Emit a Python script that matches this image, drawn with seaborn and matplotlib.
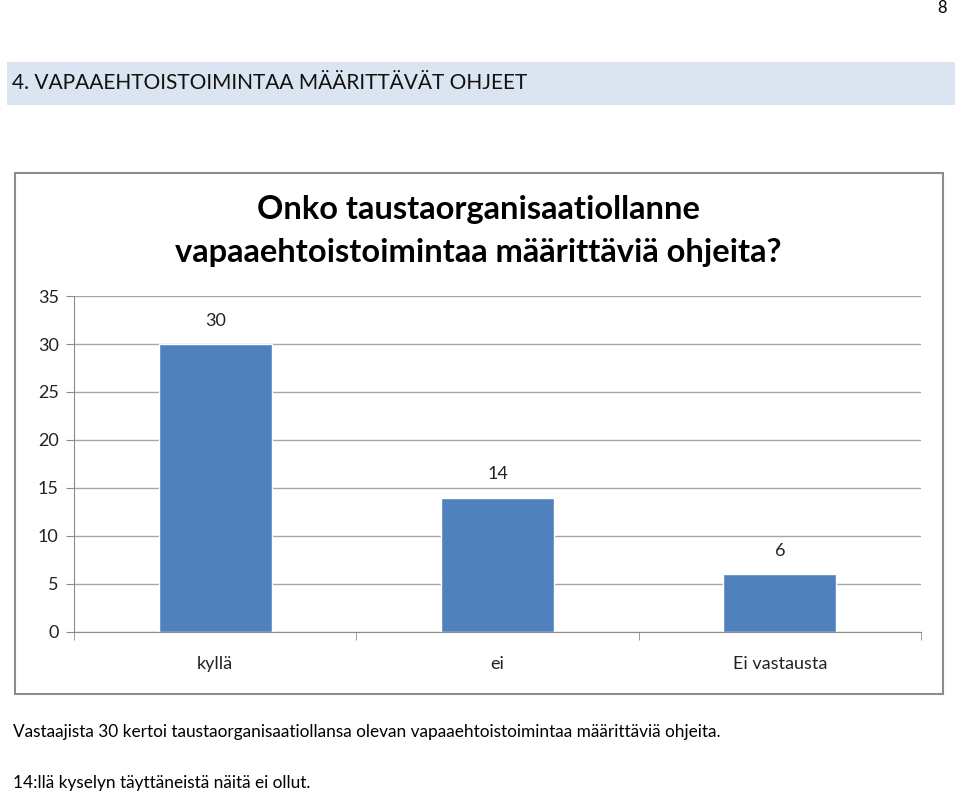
import matplotlib
matplotlib.use("Agg")
import matplotlib.pyplot as plt
import seaborn as sns
import pandas as pd
from matplotlib.patches import Rectangle

categories = ["kyllä", "ei", "Ei vastausta"]
values = [30, 14, 6]
yticks = [0, 5, 10, 15, 20, 25, 30, 35]
title = "Onko taustaorganisaatiollanne\nvapaaehtoistoimintaa määrittäviä ohjeita?"
header = "4. VAPAAEHTOISTOIMINTAA MÄÄRITTÄVÄT OHJEET"
caption1 = "Vastaajista 30 kertoi taustaorganisaatiollansa olevan vapaaehtoistoimintaa määrittäviä ohjeita."
caption2 = "14:llä kyselyn täyttäneistä näitä ei ollut."

sns.set_style("white")
plt.rcParams['font.family'] = ['Lato', 'DejaVu Sans']

W, H = 960, 799
fig = plt.figure(figsize=(W / 100, H / 100), dpi=100)

def fx(px):
    return px / W

def fy(py):
    return 1 - py / H

# page number
fig.text(fx(947), fy(8), "8", ha="right", va="center", fontsize=12, color="black")

# header bar
fig.patches.append(Rectangle((fx(7), fy(105)), fx(955) - fx(7), fy(62) - fy(105),
                             transform=fig.transFigure, facecolor="#DBE5F1", edgecolor="none", zorder=-2))
fig.text(fx(12), fy(83), header, ha="left", va="center", fontsize=15, color="#111111")

# chart box
fig.patches.append(Rectangle((fx(15), fy(694)), fx(943) - fx(15), fy(173) - fy(694),
                             transform=fig.transFigure, facecolor="none", edgecolor="#8C8C8C",
                             linewidth=1.5, zorder=-1))

# chart title
fig.text(fx(478), fy(231), title, ha="center", va="center", fontsize=23.5, fontweight="bold",
         color="black", linespacing=1.55)

ax = fig.add_axes([fx(74), fy(632), fx(921) - fx(74), fy(296) - fy(632)])
ax.set_zorder(2)
ax.patch.set_alpha(0)
df = pd.DataFrame({"cat": categories, "val": values})
sns.barplot(data=df, x="cat", y="val", ax=ax, color="#4F81BD", width=0.4, saturation=1, zorder=3)
ax.set_xlim(-0.5, len(categories) - 0.5)
ax.set_ylim(0, 35)
ax.set_yticks(yticks)
ax.set_yticklabels([str(t) for t in yticks])
ax.set_xlabel("")
ax.set_ylabel("")
ax.yaxis.grid(True, color="#A6A6A6", linewidth=1)
ax.set_axisbelow(True)
for s in ["top", "right"]:
    ax.spines[s].set_visible(False)
ax.spines["left"].set_color("#8C8C8C")
ax.spines["bottom"].set_color("#8C8C8C")
ax.tick_params(axis="y", left=True, length=6, color="#8C8C8C", labelsize=13, labelcolor="#222222", pad=5)
ax.tick_params(axis="x", bottom=False, labelsize=13, labelcolor="#222222", pad=14)
# category separator ticks
ax.set_xticks([i - 0.5 for i in range(len(categories) + 1)], minor=True)
ax.tick_params(axis="x", which="minor", bottom=True, length=6, color="#8C8C8C")

for c in ax.containers:
    ax.bar_label(c, labels=[str(v) for v in values], padding=11, fontsize=13, color="#222222")

fig.text(fx(13), fy(732), caption1, ha="left", va="center", fontsize=12.4, color="black")
fig.text(fx(13), fy(783), caption2, ha="left", va="center", fontsize=12.4, color="black")

fig.savefig("out.png", dpi=100)
